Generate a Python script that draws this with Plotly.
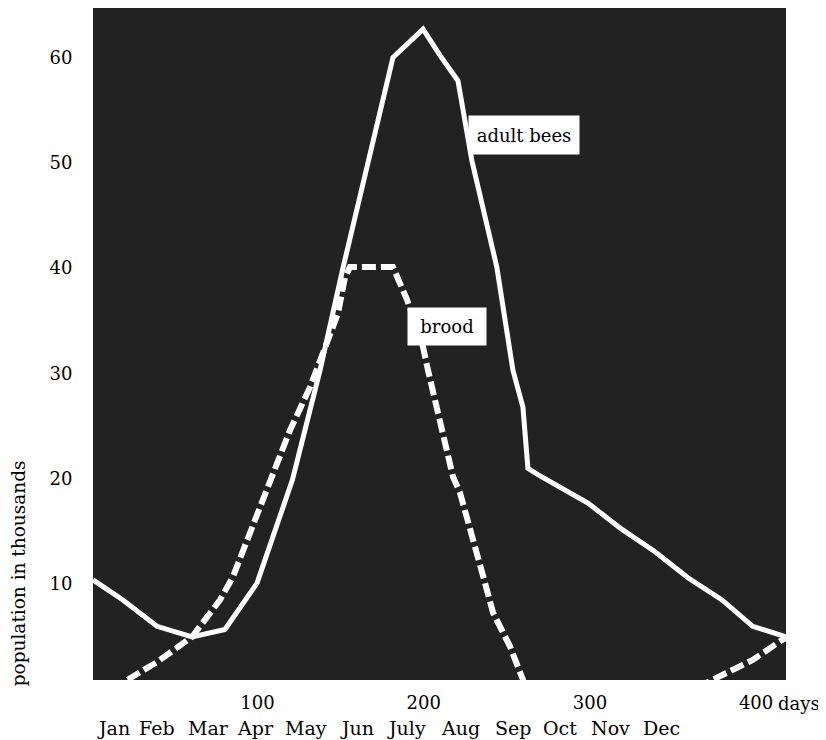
import plotly.graph_objects as go

# ---- data ----
bees_day = [1, 19, 39.5, 60.6, 80.4, 99.7, 121, 137.6, 151.4, 165.9, 181.5, 199.6,
            209.8, 220.6, 229, 244, 253.7, 259.7, 262.7, 268.7, 298.8, 319.3, 339,
            359, 379.5, 398, 418]
bees_pop = [10.4, 8.5, 6.0, 5.0, 5.7, 10.1, 19.9, 30.3, 40.0, 49.8, 60.0, 62.7,
            60.2, 57.8, 50.2, 40.1, 30.3, 26.8, 21.0, 20.4, 17.7, 15.2, 13.1,
            10.6, 8.5, 6.0, 5.0]

brood_day = [12, 29.3, 39.5, 60.6, 77.4, 85.2, 97.3, 109.3, 119.5, 131.6, 148.4,
             152.6, 155.6, 181.5, 190, 199.6, 202.6, 217.6, 221.8, 236.9, 241.7,
             251.9, 259.1, 262, 362, 380, 398, 415.6, 418]
brood_pop = [0, 1.7, 2.6, 5.0, 8.5, 10.7, 15.5, 20.2, 24.6, 28.7, 35.7,
             39.1, 40.1, 40.1, 37.0, 32.5, 30.3, 20.2, 18.7, 10.1, 7.3,
             4.1, 1.1, 0, 0, 1.4, 2.8, 4.7, 4.9]

x_tickvals = [100, 200, 300, 400]
x_ticktext = ["100", "200", "300", "400"]
y_tickvals = [10, 20, 30, 40, 50, 60]

months = ["Jan", "Feb", "Mar", "Apr", "May", "Jun", "July", "Aug", "Sep", "Oct", "Nov", "Dec"]
month_day = [13.6, 39.5, 70.2, 98.5, 129.2, 159.8, 189.9, 222.4, 253.7, 282, 312.6, 343.3]

FONT = "DejaVu Serif"

fig = go.Figure()
fig.add_trace(go.Scatter(x=bees_day, y=bees_pop, mode="lines", name="adult bees",
                         line=dict(color="white", width=5), showlegend=False))
fig.add_trace(go.Scatter(x=brood_day, y=brood_pop, mode="lines", name="brood",
                         line=dict(color="white", width=6, dash="14px,5px"), showlegend=False))

annotations = []
annotations.append(dict(x=260.3, y=52.6, xref="x", yref="y", text="adult bees", showarrow=False,
                        bgcolor="white", width=108, height=36, font=dict(family=FONT, size=18, color="black")))
annotations.append(dict(x=214, y=34.5, xref="x", yref="y", text="brood", showarrow=False,
                        bgcolor="white", width=76, height=35, font=dict(family=FONT, size=18, color="black")))
for m, d in zip(months, month_day):
    annotations.append(dict(x=d, y=0, xref="x", yref="paper", text=m, showarrow=False,
                            yanchor="middle", yshift=-48, font=dict(family=FONT, size=19, color="black")))
annotations.append(dict(x=400, y=0, xref="x", yref="paper", text="days", showarrow=False,
                        xanchor="left", yanchor="middle", xshift=20, yshift=-23,
                        font=dict(family=FONT, size=18, color="black")))
annotations.append(dict(x=-0.108, y=0.159, xref="paper", yref="paper", text="population in thousands",
                        showarrow=False, textangle=-90, xanchor="center", yanchor="middle",
                        font=dict(family=FONT, size=18.5, color="black")))

# page body adds an 8px margin, so the figure is 8px smaller in each direction
fig.update_layout(
    width=818, height=732,
    margin=dict(l=85, r=40, t=0, b=60),
    paper_bgcolor="white", plot_bgcolor="#222222",
    font=dict(family=FONT, size=18, color="black"),
    annotations=annotations,
    xaxis=dict(range=[1, 418], tickvals=x_tickvals, ticktext=x_ticktext, showgrid=False,
               zeroline=False, ticks="outside", ticklen=6, tickcolor="rgba(0,0,0,0)",
               showline=False),
    yaxis=dict(range=[0.9, 64.7], tickvals=y_tickvals, showgrid=False, zeroline=False,
               ticks="outside", ticklen=16, tickcolor="rgba(0,0,0,0)", showline=False),
)

fig.write_html("out.html")
